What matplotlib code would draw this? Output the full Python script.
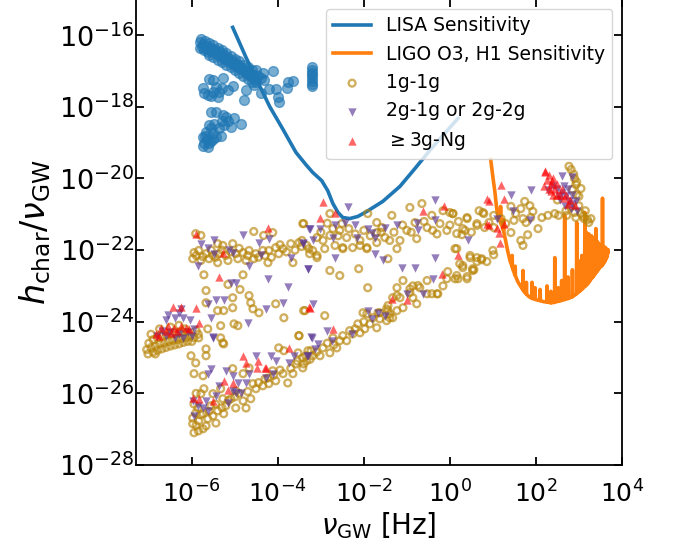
import numpy as np
import matplotlib
matplotlib.use("Agg")
import matplotlib.pyplot as plt

# all values are log10(frequency [Hz]), log10(h_char / nu_GW)

lisa_curve = [(-5.05, -15.78), (-4.74, -16.62), (-4.44, -17.37), (-4.19, -17.99), (-3.88, -18.63),
              (-3.58, -19.27), (-3.35, -19.61), (-3.19, -19.83), (-2.98, -20.06), (-2.84, -20.34),
              (-2.72, -20.70), (-2.60, -20.95), (-2.49, -21.09), (-2.33, -21.12), (-2.14, -21.06),
              (-1.93, -20.92), (-1.56, -20.64), (-1.16, -20.22), (-0.81, -19.72), (-0.47, -19.22),
              (-0.12, -18.74), (0.19, -18.32)]

ligo_curve = [(0.95, -19.47), (1.00, -19.95), (1.05, -20.40), (1.09, -20.85), (1.12, -21.05), (1.16, -21.15),
              (1.175, -21.2), (1.18, -20.78), (1.185, -21.25), (1.22, -21.35), (1.245, -21.45), (1.25, -21.15),
              (1.255, -21.5), (1.30, -21.75), (1.35, -22.05), (1.40, -22.3), (1.445, -22.45), (1.45, -22.15),
              (1.455, -22.5), (1.50, -22.65), (1.515, -22.7), (1.52, -22.45), (1.525, -22.72), (1.58, -22.88),
              (1.64, -23.0), (1.695, -23.1), (1.70, -22.57), (1.705, -23.12), (1.74, -23.18), (1.775, -23.22),
              (1.78, -22.9), (1.785, -23.23), (1.84, -23.3), (1.905, -23.34), (1.91, -22.9), (1.915, -23.35),
              (1.97, -23.37), (1.98, -23.05), (1.99, -23.38), (2.05, -23.4), (2.095, -23.41), (2.10, -23.1),
              (2.105, -23.41), (2.18, -23.44), (2.255, -23.45), (2.26, -23.0), (2.265, -23.45), (2.345, -23.47),
              (2.35, -23.15), (2.355, -23.47), (2.435, -23.46), (2.44, -22.21), (2.445, -23.45), (2.515, -23.43),
              (2.52, -23.05), (2.525, -23.43), (2.595, -23.41), (2.60, -22.85), (2.605, -23.40), (2.665, -23.38),
              (2.67, -21.03), (2.675, -23.38), (2.745, -23.35), (2.75, -22.75), (2.755, -23.35), (2.845, -23.3),
              (2.85, -22.55), (2.855, -23.3), (2.945, -23.22), (2.95, -21.23), (2.955, -23.21), (3.025, -23.14),
              (3.03, -22.3), (3.035, -23.13), (3.065, -23.1), (3.07, -22.15), (3.075, -23.09), (3.135, -23.02),
              (3.14, -20.95), (3.145, -23.01), (3.17, -22.98), (3.175, -21.5), (3.18, -22.97), (3.2, -22.95),
              (3.205, -21.6), (3.21, -22.93), (3.23, -22.9), (3.235, -21.55), (3.24, -22.88), (3.26, -22.85),
              (3.265, -21.65), (3.27, -22.83), (3.29, -22.8), (3.295, -21.6), (3.3, -22.78), (3.32, -22.76),
              (3.325, -21.7), (3.33, -22.74), (3.35, -22.71), (3.355, -21.65), (3.36, -22.69), (3.38, -22.66),
              (3.385, -21.75), (3.39, -22.64), (3.395, -21.4), (3.4, -22.62), (3.42, -22.6), (3.425, -21.75),
              (3.43, -22.58), (3.45, -22.55), (3.455, -21.8), (3.46, -22.53), (3.48, -22.5), (3.485, -21.85),
              (3.49, -22.48), (3.51, -22.46), (3.515, -21.85), (3.52, -22.45), (3.545, -22.42), (3.55, -20.55),
              (3.555, -22.41), (3.57, -22.38), (3.575, -21.9), (3.58, -22.36), (3.6, -22.32), (3.605, -21.92),
              (3.61, -22.3), (3.63, -22.25), (3.635, -21.95), (3.64, -22.22), (3.66, -22.18), (3.665, -22.0),
              (3.67, -22.1), (3.675, -22.0)]

lisa_sources = [(-5.82, -16.2), (-5.8, -16.35), (-5.78, -16.1), (-5.75, -16.25), (-5.72, -16.42), (-5.7, -16.15),
                (-5.76, -16.32), (-5.68, -16.38), (-5.62, -16.46),
                (-5.65, -16.3), (-5.58, -16.42), (-5.5, -16.47), (-5.42, -16.52), (-5.35, -16.58), (-5.27, -16.63),
                (-5.2, -16.7), (-5.12, -16.75), (-5.05, -16.8), (-4.97, -16.86), (-4.9, -16.92), (-4.82, -16.98),
                (-4.75, -17.04), (-4.68, -17.1), (-4.6, -17.16), (-4.53, -17.22),
                (-5.6, -16.22), (-5.5, -16.28), (-5.4, -16.36), (-5.3, -16.42), (-5.2, -16.5), (-5.1, -16.58),
                (-5.0, -16.66), (-4.9, -16.73), (-4.8, -16.82), (-4.7, -16.9), (-4.6, -16.98),
                (-5.55, -16.35), (-5.45, -16.42), (-5.35, -16.48), (-5.25, -16.55), (-5.15, -16.64), (-5.05, -16.72),
                (-4.95, -16.8), (-4.85, -16.88), (-4.75, -16.96), (-4.65, -17.04), (-4.55, -17.1),
                (-5.6, -16.55), (-5.5, -16.62), (-5.4, -16.7), (-5.3, -16.76), (-5.2, -16.83), (-5.1, -16.9),
                (-5.0, -16.98), (-4.9, -17.06), (-4.8, -17.14), (-4.7, -17.22), (-4.6, -17.3),
                (-5.60, -17.23), (-5.51, -17.26), (-5.28, -17.20), (-5.05, -17.43), (-5.16, -17.54), (-5.30, -17.48),
                (-5.44, -17.45), (-5.74, -17.48), (-5.72, -17.62), (-5.63, -17.68), (-5.56, -17.71), (-5.40, -17.73),
                (-5.37, -17.59), (-5.51, -17.59), (-4.74, -17.54), (-4.51, -16.98), (-4.35, -17.06), (-4.12, -17.01),
                (-4.33, -17.26), (-4.21, -17.51), (-4.05, -17.51), (-4.0, -17.73), (-3.98, -17.87), (-3.77, -17.31),
                (-3.65, -17.29), (-3.79, -17.48), (-4.79, -17.82), (-4.40, -17.62), (-4.45, -17.15), (-4.5, -17.3),
                (-4.4, -17.2), (-4.55, -17.4),
                (-5.56, -18.15), (-5.44, -18.15), (-5.28, -18.24), (-5.21, -18.29), (-5.02, -18.32), (-4.86, -18.49),
                (-5.09, -18.55), (-5.26, -18.52), (-5.37, -18.60), (-5.49, -18.49), (-5.60, -18.52), (-5.67, -18.71),
                (-5.74, -18.85), (-5.72, -19.02), (-5.63, -19.13), (-5.56, -18.94), (-5.44, -18.85), (-5.33, -18.80),
                (-5.51, -18.74), (-5.74, -19.08), (-5.65, -18.9), (-5.6, -19.0), (-5.5, -18.9), (-5.15, -18.4),
                (-5.3, -18.4), (-5.7, -18.8), (-5.55, -18.6),
                (-3.21, -16.9), (-3.21, -16.98), (-3.21, -17.05), (-3.21, -17.12), (-3.21, -17.2), (-3.21, -17.28),
                (-3.21, -17.35), (-3.21, -17.43)]

gen1 = [(-7.05, -24.78), (-6.95, -24.72), (-6.85, -24.68), (-6.75, -24.62), (-6.65, -24.6), (-6.55, -24.55),
        (-6.45, -24.52), (-6.35, -24.5), (-6.25, -24.48), (-6.15, -24.45), (-6.05, -24.42), (-5.95, -24.45),
        (-7.0, -24.6), (-6.9, -24.5), (-6.8, -24.45), (-6.7, -24.4), (-6.6, -24.38), (-6.5, -24.35), (-6.4, -24.3),
        (-6.3, -24.3), (-6.2, -24.28), (-6.1, -24.3), (-6.9, -24.85), (-6.8, -24.8), (-6.7, -24.76), (-6.6, -24.72),
        (-6.5, -24.68), (-6.4, -24.65), (-6.3, -24.62), (-6.2, -24.58), (-6.1, -24.55), (-6.0, -24.55),
        (-6.95, -24.35), (-6.75, -24.2), (-6.5, -24.15), (-6.3, -24.1), (-6.15, -24.2), (-5.9, -24.25),
        (-5.85, -24.35), (-7.02, -24.9), (-6.85, -24.9),
        (-5.91, -21.54), (-5.79, -21.59), (-5.4, -21.82), (-5.28, -21.87), (-5.05, -21.82), (-4.56, -21.48),
        (-4.33, -21.59), (-4.12, -21.51), (-3.4, -21.26), (-5.95, -22.07), (-5.84, -22.01), (-5.67, -22.1),
        (-5.51, -22.15), (-5.37, -22.1), (-5.21, -22.15), (-4.98, -22.1), (-4.81, -22.07), (-4.67, -22.01),
        (-4.51, -22.1), (-4.35, -22.01), (-4.21, -22.01), (-4.05, -21.93), (-3.88, -21.96), (-3.7, -21.82),
        (-3.51, -21.79), (-3.28, -21.96), (-5.98, -22.24), (-5.79, -22.29), (-5.6, -22.24), (-5.4, -22.35),
        (-5.16, -22.29), (-4.93, -22.24), (-4.74, -22.29), (-4.56, -22.24), (-4.23, -22.35), (-3.98, -22.1),
        (-3.65, -22.35), (-5.72, -22.69), (-4.81, -22.69), (-5.67, -23.13), (-5.16, -22.96), (-4.88, -23.1),
        (-5.05, -23.33), (-4.67, -23.27), (-4.63, -23.47), (-4.58, -23.64), (-4.44, -23.75), (-4.05, -23.5),
        (-3.86, -23.89), (-3.4, -23.69), (-5.67, -23.47), (-5.4, -23.69), (-5.26, -23.69), (-5.05, -23.61),
        (-5.33, -24.11), (-5.02, -24.06), (-4.93, -24.11), (-5.63, -24.2), (-5.84, -24.45), (-5.28, -24.59),
        (-3.51, -24.39), (-5.67, -24.76), (-5.9, -22.15), (-5.75, -22.18), (-5.55, -22.0), (-5.45, -22.2),
        (-5.3, -22.0), (-5.1, -22.05), (-4.9, -21.95), (-4.7, -22.15), (-4.45, -22.2), (-4.3, -22.15),
        (-4.15, -22.2), (-3.95, -21.85), (-3.8, -22.05), (-3.6, -22.0), (-3.45, -21.9),
        (-3.42, -21.26), (-2.79, -20.98), (-2.51, -21.26), (-2.72, -21.4), (-2.56, -21.45), (-2.79, -21.59),
        (-3.09, -21.65), (-3.33, -21.87), (-3.26, -22.1), (-3.09, -22.21), (-2.91, -21.96), (-2.95, -21.73),
        (-2.67, -21.87), (-2.49, -21.96), (-2.26, -21.93), (-2.09, -21.87), (-1.93, -21.96), (-1.91, -20.98),
        (-1.7, -21.23), (-1.58, -21.37), (-1.51, -21.65), (-1.35, -21.03), (-1.16, -21.73), (-1.0, -21.45),
        (-0.93, -20.81), (-0.65, -20.7), (-0.81, -21.23), (-0.77, -21.68), (-0.53, -21.37), (-0.42, -21.03),
        (-0.23, -21.26), (-0.16, -20.9), (-0.07, -21.45), (0.07, -20.98), (0.16, -21.54), (0.4, -21.09),
        (0.3, -21.4), (0.63, -21.26), (0.77, -20.95), (0.81, -21.37), (-1.7, -21.79), (-1.4, -21.73),
        (-1.23, -21.96), (-0.4, -21.45), (-2.4, -21.65), (-2.09, -21.73), (-1.7, -21.51), (-3.44, -21.73),
        (-3.19, -22.01), (-2.79, -22.57), (-2.56, -22.71), (-2.12, -22.52), (-1.44, -22.24), (-1.91, -23.05),
        (0.12, -21.96), (0.3, -22.49), (0.23, -22.38), (0.63, -22.21), (0.74, -22.24), (0.4, -22.74),
        (0.12, -22.8), (-0.07, -22.8), (-0.16, -23.0), (-0.53, -22.85), (-0.7, -23.05), (-0.86, -23.0),
        (-0.93, -23.19), (-1.09, -22.85), (-1.23, -23.05), (-1.16, -23.33), (-0.86, -23.33), (-0.77, -23.5),
        (-1.09, -23.61), (-0.42, -23.22), (-0.28, -23.22), (-1.33, -23.33), (-1.47, -23.64), (-1.4, -23.89),
        (-1.63, -23.75), (-1.93, -23.78), (-2.02, -23.75), (-2.91, -23.83), (-3.37, -23.69),
        (-3.0, -21.5), (-2.85, -21.25), (-2.6, -21.6), (-2.35, -21.4), (-2.2, -21.55), (-2.0, -21.45),
        (-1.85, -21.6), (-1.6, -21.5), (-1.3, -21.5), (-1.1, -21.3), (-0.9, -21.5), (-0.6, -21.2),
        (-0.3, -21.55), (0.0, -21.3), (0.2, -21.2), (0.5, -21.5),
        (-3.09, -22.15), (-2.49, -21.93), (-1.93, -21.93), (0.47, -22.15), (0.3, -22.43), (0.53, -22.57),
        (0.16, -22.71), (-0.3, -23.22), (-0.74, -22.99), (-0.93, -23.08), (-0.53, -23.22), (-1.23, -23.69),
        (-1.44, -23.55), (-1.44, -23.69), (-1.47, -23.97), (-1.4, -23.78), (-1.63, -23.92), (-1.79, -23.89),
        (-1.86, -24.06), (-1.98, -24.2), (-2.09, -24.31), (-2.14, -24.06), (-2.26, -24.34), (-2.33, -24.25),
        (-2.49, -24.39), (-2.56, -24.53), (-2.4, -24.53), (-2.72, -24.45), (-2.63, -24.73), (-2.79, -24.87),
        (-2.95, -24.73), (-3.02, -24.95), (-3.19, -24.95), (-3.3, -24.81), (-3.33, -25.09), (-3.42, -25.29),
        (-1.23, -23.27), (-1.7, -24.17), (-1.33, -23.89), (-1.67, -23.75), (-2.0, -24.0), (-2.2, -24.2),
        (-2.7, -24.65), (-2.85, -24.6), (-3.1, -24.85), (-3.25, -25.05),
        (-6.02, -24.95), (-5.91, -25.15), (-5.67, -24.95), (-5.95, -25.45), (-5.74, -25.51), (-5.72, -25.87),
        (-5.79, -26.01), (-5.51, -26.01), (-5.33, -25.87), (-5.26, -26.57), (-5.05, -25.31), (-4.98, -25.93),
        (-4.63, -26.15), (-4.74, -26.41), (-4.98, -26.41), (-5.21, -26.35), (-5.4, -26.49), (-5.51, -26.63),
        (-5.44, -26.83), (-5.63, -26.71), (-5.67, -26.91), (-5.74, -26.99), (-5.95, -27.1), (-5.98, -26.85),
        (-5.98, -26.69), (-5.91, -26.55), (-5.84, -26.77), (-5.74, -26.57), (-5.86, -26.41), (-5.56, -26.35),
        (-5.28, -26.15), (-5.09, -26.15), (-4.81, -26.21), (-4.51, -25.87), (-4.58, -25.73), (-4.35, -25.79),
        (-4.21, -25.73), (-4.23, -25.57), (-4.05, -25.65), (-3.88, -25.45), (-3.77, -25.71), (-4.12, -25.37),
        (-3.98, -24.73), (-3.86, -24.81), (-3.58, -25.18), (-3.51, -24.39), (-3.65, -25.45), (-3.42, -25.01),
        (-3.23, -24.81), (-3.4, -25.18), (-3.53, -24.87), (-4.67, -25.29), (-4.81, -25.45), (-5.33, -24.45),
        (-5.26, -24.62), (-5.9, -26.9), (-5.8, -26.6), (-5.6, -26.5), (-5.45, -26.3), (-5.3, -26.4),
        (-5.15, -26.2), (-5.0, -26.1), (-4.9, -26.0), (-4.7, -25.95), (-4.45, -25.7), (-4.3, -25.6),
        (-4.1, -25.5), (-3.95, -25.35), (-3.7, -25.3), (-3.55, -25.1), (-3.35, -24.95), (-5.85, -27.05),
        (-5.95, -26.3), (-5.9, -26.0),
        (0.4, -21.12), (0.79, -20.98), (0.35, -21.45), (0.63, -21.31), (0.91, -21.23), (1.02, -21.03),
        (1.42, -20.78), (1.74, -20.64), (1.86, -20.76), (1.93, -20.92), (1.65, -20.84), (1.53, -20.98),
        (1.7, -21.12), (1.49, -21.17), (1.42, -21.51), (1.77, -21.23), (1.88, -21.09), (2.14, -21.09),
        (2.28, -21.03), (2.05, -21.4), (1.81, -21.57), (1.65, -21.73), (1.7, -21.87), (1.3, -21.26),
        (1.02, -21.37), (1.19, -21.12), (0.28, -21.57), (0.47, -22.21), (0.63, -22.32), (0.74, -22.27),
        (0.86, -22.32), (1.02, -22.13), (0.56, -22.55), (0.4, -22.8), (2.44, -20.98), (2.53, -21.03),
        (2.77, -19.66), (2.88, -19.88), (2.93, -20.17), (3.05, -20.28), (2.95, -20.45), (3.0, -20.76),
        (3.05, -20.98), (3.12, -21.12), (3.23, -21.23), (3.28, -21.12), (2.72, -21.03), (2.93, -21.09),
        (2.5, -20.6), (2.7, -20.9), (2.9, -20.95), (3.1, -21.05), (3.2, -21.15), (2.8, -20.8), (2.85, -20.3),
        (2.95, -20.1), (2.82, -19.75), (2.9, -20.0), (3.0, -20.5), (3.15, -20.9), (0.0, -20.95), (0.07, -20.98),
        (0.68, -20.9), (0.16, -21.96), (0.19, -22.8), (-0.05, -22.6), (0.53, -22.52), (1.0, -22.01)]

gen2 = [(-6.3, -23.75), (-6.55, -23.8), (-6.6, -23.95), (-6.4, -23.9), (-6.2, -23.9), (-6.05, -23.95),
        (-6.7, -24.25), (-6.5, -24.3), (-6.3, -24.35), (-6.1, -24.3), (-5.95, -24.2), (-6.8, -24.4),
        (-6.6, -24.4), (-6.4, -24.45), (-6.2, -24.45), (-6.0, -24.4), (-6.25, -23.65), (-5.51, -24.42),
        (-5.56, -23.89), (-5.63, -23.5), (-5.44, -23.39), (-5.26, -23.39),
        (-5.79, -21.82), (-5.63, -21.93), (-5.49, -21.73), (-5.86, -22.43), (-5.49, -22.1), (-5.14, -22.01),
        (-5.05, -22.07), (-4.81, -21.59), (-4.44, -21.79), (-4.21, -21.68), (-4.4, -22.15), (-4.67, -22.43),
        (-4.23, -22.8), (-3.42, -21.79), (-3.28, -21.4), (-3.3, -22.52), (-3.7, -22.21), (-3.77, -23.02),
        (-5.09, -22.91), (-4.98, -22.91), (-3.88, -23.47), (-4.28, -23.64), (-4.7, -24.03),
        (-2.37, -20.81), (-0.35, -20.59), (-3.26, -21.4), (-3.02, -21.4), (-2.67, -21.31), (-2.44, -21.23),
        (-2.21, -21.31), (-1.91, -21.4), (-1.81, -21.51), (-1.74, -21.65), (-1.51, -21.37), (-1.23, -21.31),
        (-0.77, -21.23), (-0.35, -21.17), (-0.74, -21.45), (-3.19, -21.73), (-2.72, -21.65), (-2.16, -21.65),
        (0.42, -21.73), (-3.42, -21.82), (-2.67, -22.21), (-1.74, -22.1), (-1.56, -22.29), (-3.3, -22.52),
        (-1.12, -22.49), (-0.81, -22.49), (-0.35, -22.21), (-0.4, -22.8), (-0.63, -23.22), (-1.0, -23.22),
        (-3.19, -23.5), (-1.91, -23.69), (-1.67, -23.75), (-1.51, -23.83), (-1.81, -23.92),
        (-2.86, -24.25), (-3.21, -24.45), (-3.07, -24.62), (-2.74, -24.53), (-2.28, -24.34), (-3.14, -24.76),
        (-3.33, -24.95),
        (-5.51, -24.45), (-5.63, -25.45), (-5.56, -25.31), (-5.21, -25.37), (-5.05, -25.51), (-5.37, -25.79),
        (-4.93, -25.71), (-4.74, -25.71), (-4.67, -25.45), (-4.51, -24.95), (-4.16, -24.95), (-4.05, -25.09),
        (-4.28, -25.57), (-4.12, -25.45), (-3.74, -25.15), (-3.63, -24.95), (-3.3, -24.95), (-3.23, -24.42),
        (-5.98, -26.21), (-5.86, -26.35), (-5.74, -26.41), (-5.63, -26.49), (-5.95, -26.63), (-5.44, -26.07),
        (-5.16, -26.27), (-4.98, -25.99), (-4.86, -25.99), (-5.05, -25.93), (-5.67, -26.21),
        (1.42, -20.45), (1.88, -20.31), (1.47, -20.92), (1.09, -21.12), (1.86, -21.17), (2.6, -19.92),
        (2.84, -19.95), (2.84, -20.45), (2.93, -20.62), (2.77, -20.64), (2.67, -20.78), (2.81, -20.84),
        (2.95, -20.92), (2.28, -20.31), (2.53, -20.5), (2.4, -20.2), (2.5, -20.3), (2.6, -20.4), (2.7, -20.5),
        (2.65, -20.2), (2.75, -20.3), (2.85, -20.7), (2.55, -20.6)]

gen3 = [(-6.44, -23.58), (-6.26, -23.58), (-5.9, -23.61), (-5.84, -24.03), (-6.84, -24.34), (-6.72, -24.17),
        (-6.56, -24.11), (-6.42, -24.17), (-6.26, -24.11), (-6.14, -24.17), (-6.07, -24.2), (-6.77, -24.39),
        (-6.49, -24.31), (-6.35, -24.25), (-6.6, -24.25),
        (-5.91, -21.54), (-5.28, -22.07), (-5.37, -22.74), (-4.23, -21.37), (-3.28, -23.58), (-2.95, -20.67),
        (-3.02, -21.09), (-2.67, -20.95), (-0.63, -20.92), (-0.14, -20.76), (0.86, -20.56), (0.86, -21.26),
        (0.19, -22.15), (-0.19, -22.66), (-1.35, -23.36), (-1.0, -23.38), (-3.26, -23.61), (-2.72, -24.2),
        (-4.81, -24.95), (-4.74, -25.15), (-4.47, -25.09), (-4.28, -25.29), (-3.74, -24.73), (-5.26, -25.65),
        (-5.05, -25.71), (-5.16, -25.9), (-5.98, -26.13), (-5.84, -26.15), (-5.51, -26.21), (-4.49, -25.29),
        (-4.3, -25.29),
        (1.19, -20.17), (0.91, -20.62), (1.26, -20.56), (1.09, -21.37), (0.91, -21.31), (1.14, -21.51),
        (1.16, -21.79), (1.26, -21.26), (2.21, -19.83), (2.21, -19.8), (2.3, -19.9), (2.25, -20.05),
        (2.4, -20.0), (2.35, -20.15), (2.5, -20.15), (2.45, -20.3), (2.6, -20.3), (2.55, -20.45), (2.7, -20.45),
        (2.65, -20.55), (2.8, -20.6), (2.75, -20.7), (2.9, -20.75), (2.3, -20.3), (2.2, -20.2), (2.4, -20.45),
        (2.35, -20.35), (2.5, -20.45), (2.37, -20.08)]

x_ticks = [1e-6, 1e-4, 1e-2, 1e0, 1e2, 1e4]
y_ticks = [1e-28, 1e-26, 1e-24, 1e-22, 1e-20, 1e-18, 1e-16]


def unlog(pts):
    a = np.array(pts)
    return 10 ** a[:, 0], 10 ** a[:, 1]


fig = plt.figure(figsize=(6.73, 5.47), dpi=100)
ax = fig.add_axes([0.202, 0.150, 0.722, 0.851])
ax.set_xscale("log")
ax.set_yscale("log")

ax.plot(*unlog(lisa_curve), color="C0", lw=2.6, label="LISA Sensitivity", zorder=2)
ax.plot(*unlog(ligo_curve), color="C1", lw=2.6, label="LIGO O3, H1 Sensitivity", zorder=2)

ax.scatter(*unlog(lisa_sources), color="C0", s=50, alpha=0.6, zorder=1)
ax.scatter(*unlog(gen1), facecolors="none", edgecolors="darkgoldenrod", s=24, linewidths=1.7,
           alpha=0.65, label="1g-1g", zorder=3)
ax.scatter(*unlog(gen2), marker="v", color="#5a3796", s=36, linewidths=0, alpha=0.65,
           label="2g-1g or 2g-2g", zorder=3)
ax.scatter(*unlog(gen3), marker="^", color="red", s=36, linewidths=0, alpha=0.6,
           label=r"$\geq$3g-Ng", zorder=3)

ax.set_xlim(10 ** -7.3, 1e4)
ax.set_ylim(1e-28, 1e-15)
ax.set_xticks(x_ticks)
ax.set_yticks(y_ticks)
ax.minorticks_off()
ax.tick_params(which="both", direction="in", top=True, right=True, length=6, width=1.3)
ax.tick_params(axis="x", pad=11, labelsize=18)
ax.tick_params(axis="y", pad=1, labelsize=19.5)
for sp in ax.spines.values():
    sp.set_linewidth(1.3)

ax.set_xlabel(r"$\nu_{\rm GW}$ [Hz]", fontsize=20, labelpad=2)
ax.set_ylabel(r"$h_{\rm char}/\nu_{\rm GW}$", fontsize=24, labelpad=4)
ax.legend(loc="upper right", fontsize=13.5)

fig.savefig("out.png", dpi=100)
